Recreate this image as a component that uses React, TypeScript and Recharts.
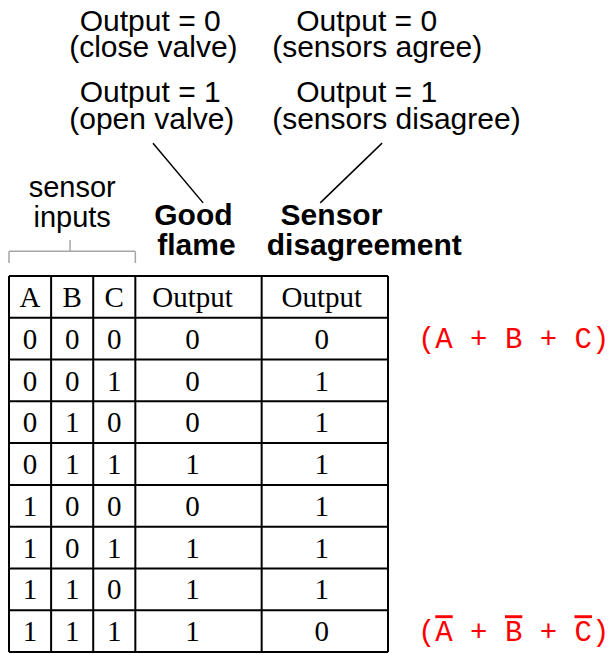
import { ScatterChart, Scatter, XAxis, YAxis, ReferenceLine, ReferenceDot } from "recharts";

// truth table data
const headers = ["A", "B", "C", "Output", "Output"];
const inputA = [0, 0, 0, 0, 1, 1, 1, 1];
const inputB = [0, 0, 1, 1, 0, 0, 1, 1];
const inputC = [0, 1, 0, 1, 0, 1, 0, 1];
const goodFlame = [0, 0, 0, 1, 0, 1, 1, 1];
const sensorDisagreement = [0, 1, 1, 1, 1, 1, 1, 0];
const colWidths = [1, 1, 1, 3, 3];

// annotation texts
const flameNotes = ["Output = 0", "(close valve)", "Output = 1", "(open valve)"];
const disagreeNotes = ["Output = 0", "(sensors agree)", "Output = 1", "(sensors disagree)"];
const bracketLabel = ["sensor", "inputs"];
const flameTitle = ["Good", "flame"];
const disagreeTitle = ["Sensor", "disagreement"];

const colBounds = colWidths.reduce<number[]>((acc, w) => [...acc, acc[acc.length - 1] + w], [0]);
const nRows = inputA.length + 1;
const rowBounds = Array.from({ length: nRows + 1 }, (_, i) => i);
const columns = [inputA, inputB, inputC, goodFlame, sensorDisagreement];

const cells = headers.flatMap((h, j) => {
  const x = (colBounds[j] + colBounds[j + 1]) / 2;
  return [
    { x, y: 0.5, text: h, col: j },
    ...columns[j].map((v, i) => ({ x, y: i + 1.5, text: String(v), col: j })),
  ];
});

const SANS = "'Liberation Sans', Arial, Helvetica, sans-serif";
const SERIF = "'Liberation Serif', 'Times New Roman', serif";
const MONO = "'Liberation Mono', 'Courier New', monospace";

const noteRowsY = [-5.86, -5.24, -4.16, -3.52];
const flameNotesX = [1.68, 1.43, 1.68, 1.43];
const disagreeNotesX = [6.82, 6.25, 6.82, 6.25];
// the reference sets the output columns' text a little left of centre
const colShift = [0, 0, 0, -6, -3];

const textShape = (text: React.ReactNode, opts: any) => (p: any) => (
  <text
    x={p.cx}
    y={p.cy}
    textAnchor={opts.anchor || "start"}
    dy={opts.dy || 0}
    fontFamily={opts.font || SANS}
    fontSize={opts.size || 30}
    fontWeight={opts.bold ? "bold" : "normal"}
    fill={opts.color || "#000"}
  >
    {text}
  </text>
);

const CellShape = (p: any) => (
  <text
    x={p.cx + colShift[p.payload.col]}
    y={p.cy}
    dy="0.35em"
    textAnchor="middle"
    fontFamily={SERIF}
    fontSize={29}
    fill="#000"
  >
    {p.payload.text}
  </text>
);

const over = { textDecoration: "overline" } as const;

export default function App() {
  return (
    <div style={{ position: "absolute", left: 0, top: 0, background: "#fff" }}>
      <ScatterChart width={613} height={654} margin={{ top: 276, right: 225, bottom: 2, left: 9 }}>
        <XAxis dataKey="x" type="number" domain={[0, 9]} hide />
        <YAxis dataKey="y" type="number" domain={[0, nRows]} reversed hide />

        {colBounds.map((b) => (
          <ReferenceLine key={"c" + b} x={b} stroke="#000" strokeWidth={2} />
        ))}
        {rowBounds.map((b) => (
          <ReferenceLine key={"r" + b} y={b} stroke="#000" strokeWidth={2} />
        ))}

        <Scatter data={cells} shape={CellShape} isAnimationActive={false} />

        {/* bracket over the sensor inputs */}
        <ReferenceLine ifOverflow="visible" stroke="#a6a6a6" strokeWidth={1.5}
          segment={[{ x: 0, y: -0.31 }, { x: 0, y: -0.59 }]} />
        <ReferenceLine ifOverflow="visible" stroke="#a6a6a6" strokeWidth={1.5}
          segment={[{ x: 0, y: -0.59 }, { x: 3, y: -0.59 }]} />
        <ReferenceLine ifOverflow="visible" stroke="#a6a6a6" strokeWidth={1.5}
          segment={[{ x: 3, y: -0.59 }, { x: 3, y: -0.31 }]} />
        <ReferenceLine ifOverflow="visible" stroke="#a6a6a6" strokeWidth={1.5}
          segment={[{ x: 1.45, y: -0.59 }, { x: 1.45, y: -0.86 }]} />

        {/* pointer lines */}
        <ReferenceLine ifOverflow="visible" stroke="#000" strokeWidth={1.5}
          segment={[{ x: 3.42, y: -3.18 }, { x: 4.61, y: -1.75 }]} />
        <ReferenceLine ifOverflow="visible" stroke="#000" strokeWidth={1.5}
          segment={[{ x: 8.86, y: -3.18 }, { x: 7.39, y: -1.75 }]} />

        {bracketLabel.map((t, i) => (
          <ReferenceDot key={"b" + i} x={1.5} y={[-1.89, -1.17][i]} r={0} ifOverflow="visible"
            shape={textShape(t, { anchor: "middle", size: 29 })} />
        ))}
        {flameTitle.map((t, i) => (
          <ReferenceDot key={"f" + i} x={[3.45, 3.52][i]} y={[-1.22, -0.5][i]} r={0} ifOverflow="visible"
            shape={textShape(t, { bold: true })} />
        ))}
        {disagreeTitle.map((t, i) => (
          <ReferenceDot key={"d" + i} x={[6.45, 6.12][i]} y={[-1.22, -0.5][i]} r={0} ifOverflow="visible"
            shape={textShape(t, { bold: true })} />
        ))}
        {flameNotes.map((t, i) => (
          <ReferenceDot key={"fn" + i} x={flameNotesX[i]} y={noteRowsY[i]} r={0} ifOverflow="visible"
            shape={textShape(t, {})} />
        ))}
        {disagreeNotes.map((t, i) => (
          <ReferenceDot key={"dn" + i} x={disagreeNotesX[i]} y={noteRowsY[i]} r={0} ifOverflow="visible"
            shape={textShape(t, {})} />
        ))}

        {/* boolean expressions for the two rows that output 0 */}
        <ReferenceDot x={9.71} y={1.5} r={0} ifOverflow="visible"
          shape={textShape("(A + B + C)", { font: MONO, size: 29, color: "#ff0000", dy: "0.33em" })} />
        <ReferenceDot x={9.71} y={8.5} r={0} ifOverflow="visible"
          shape={textShape(
            <>
              (<tspan style={over}>A</tspan> + <tspan style={over}>B</tspan> + <tspan style={over}>C</tspan>)
            </>,
            { font: MONO, size: 29, color: "#ff0000", dy: "0.35em" }
          )} />
      </ScatterChart>
    </div>
  );
}
